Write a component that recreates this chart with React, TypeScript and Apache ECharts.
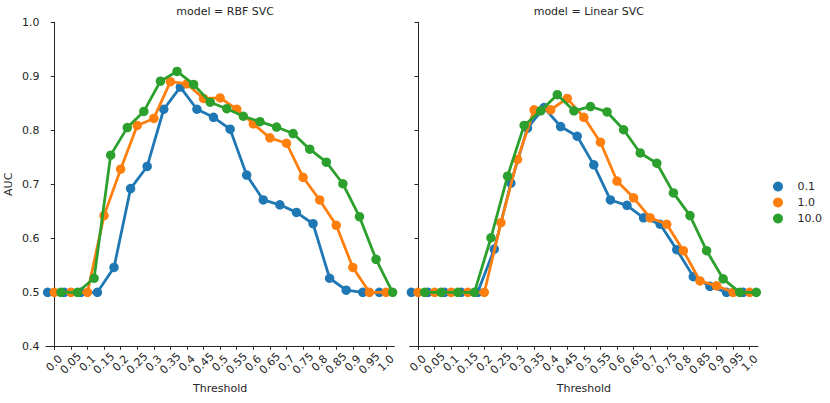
import React, { useEffect, useRef } from "react";
import * as echarts from "echarts";

const thresholds = ["0.0","0.05","0.1","0.15","0.2","0.25","0.3","0.35","0.4","0.45","0.5","0.55","0.6","0.65","0.7","0.75","0.8","0.85","0.9","0.95","1.0"];
const hueNames = ["0.1", "1.0", "10.0"];
const panelTitles = ["model = RBF SVC", "model = Linear SVC"];
const yTicks = [0.4, 1.0, 0.1];

const rbfC01 = [0.5,0.5,0.5,0.5,0.546,0.692,0.733,0.839,0.88,0.839,0.824,0.802,0.717,0.671,0.662,0.648,0.627,0.526,0.504,0.5,0.5];
const rbfC1 = [0.5,0.5,0.5,0.642,0.728,0.809,0.822,0.89,0.886,0.859,0.86,0.839,0.812,0.786,0.776,0.713,0.671,0.624,0.546,0.5,0.5];
const rbfC10 = [0.5,0.5,0.526,0.754,0.805,0.835,0.891,0.909,0.885,0.852,0.84,0.826,0.816,0.806,0.794,0.765,0.741,0.701,0.64,0.561,0.5];

const linC01 = [0.5,0.5,0.5,0.5,0.5,0.58,0.702,0.804,0.842,0.807,0.789,0.736,0.671,0.661,0.638,0.626,0.579,0.529,0.511,0.5,0.5];
const linC1 = [0.5,0.5,0.5,0.5,0.5,0.629,0.746,0.838,0.838,0.859,0.824,0.778,0.706,0.675,0.638,0.626,0.577,0.521,0.512,0.5,0.5];
const linC10 = [0.5,0.5,0.5,0.5,0.601,0.715,0.809,0.836,0.866,0.836,0.844,0.834,0.801,0.758,0.739,0.684,0.642,0.577,0.525,0.5,0.5];

const COLORS = ["#1f77b4", "#ff7f0e", "#2ca02c"];
const DODGE = [-0.4, 0, 0.4];
const FONT = "DejaVu Sans";
const INK = "#262626";
const FS = 11;

export default function App() {
  const ref = useRef<HTMLDivElement>(null);
  useEffect(() => {
    if (!ref.current) return;
    const chart = echarts.init(ref.current, null, { renderer: "svg" });
    const panels = [
      [rbfC01, rbfC1, rbfC10],
      [linC01, linC1, linC10],
    ];
    const gridLefts = [46, 409.7];
    const gridW = 348.3;
    const grids = gridLefts.map((l) => ({ left: l, top: 22.3, width: gridW, height: 324, containLabel: false }));
    const xAxes: any[] = [];
    const yAxes: any[] = [];
    panels.forEach((_, p) => {
      xAxes.push({
        type: "category",
        gridIndex: p,
        data: thresholds,
        boundaryGap: true,
        position: "bottom",
        axisLine: { show: true, lineStyle: { color: INK, width: 1 } },
        axisTick: { show: true, alignWithLabel: true, length: 3.5, lineStyle: { color: INK, width: 1 } },
        axisLabel: {
          interval: 0,
          rotate: 45,
          align: "center",
          verticalAlign: "middle",
          margin: 17,
          color: INK,
          fontFamily: FONT,
          fontSize: FS,
        },
        splitLine: { show: false },
        name: "Threshold",
        nameLocation: "middle",
        nameGap: 35.5,
        nameTextStyle: { color: INK, fontFamily: FONT, fontSize: FS },
      });
      xAxes.push({
        type: "value",
        gridIndex: p,
        min: -0.5,
        max: thresholds.length - 0.5,
        show: false,
        position: "bottom",
      });
      yAxes.push({
        type: "value",
        gridIndex: p,
        min: yTicks[0],
        max: yTicks[1],
        interval: yTicks[2],
        axisLine: { show: true, lineStyle: { color: INK, width: 1 } },
        axisTick: { show: true, length: 3.5, lineStyle: { color: INK, width: 1 } },
        axisLabel: {
          show: p === 0,
          margin: 6.5,
          color: INK,
          fontFamily: FONT,
          fontSize: FS,
          formatter: (v: number) => v.toFixed(1),
        },
        splitLine: { show: false },
        name: p === 0 ? "AUC" : "",
        nameLocation: "middle",
        nameGap: 32,
        nameRotate: 90,
        nameTextStyle: { color: INK, fontFamily: FONT, fontSize: FS },
      });
    });
    const series: any[] = [];
    panels.forEach((arrs, p) => {
      arrs.forEach((vals, h) => {
        series.push({
          type: "line",
          name: hueNames[h],
          xAxisIndex: p * 2 + 1,
          yAxisIndex: p,
          data: vals.map((v, i) => [i + DODGE[h], v]),
          symbol: "circle",
          symbolSize: 9.5,
          showSymbol: true,
          lineStyle: { color: COLORS[h], width: 2.8 },
          itemStyle: { color: COLORS[h] },
          emphasis: { disabled: true },
          z: 2 + h,
        });
      });
    });
    chart.setOption({
      animation: false,
      backgroundColor: "#ffffff",
      textStyle: { fontFamily: FONT },
      title: panelTitles.map((t, p) => ({
        text: t,
        left: gridLefts[p] + gridW / 2,
        top: 1,
        textAlign: "center",
        textStyle: { color: INK, fontFamily: FONT, fontSize: FS, fontWeight: "normal" },
      })),
      legend: {
        data: hueNames,
        orient: "vertical",
        left: 768,
        top: 175.5,
        icon: "circle",
        itemWidth: 29,
        itemHeight: 10,
        itemGap: 4,
        textStyle: { color: INK, fontFamily: FONT, fontSize: FS, lineHeight: 12 },
        selectedMode: false,
      },
      grid: grids,
      xAxis: xAxes,
      yAxis: yAxes,
      series,
    });
    return () => chart.dispose();
  }, []);
  return (
    <div
      ref={ref}
      style={{ position: "fixed", left: 0, top: 0, width: 830, height: 403, background: "#fff" }}
    />
  );
}
